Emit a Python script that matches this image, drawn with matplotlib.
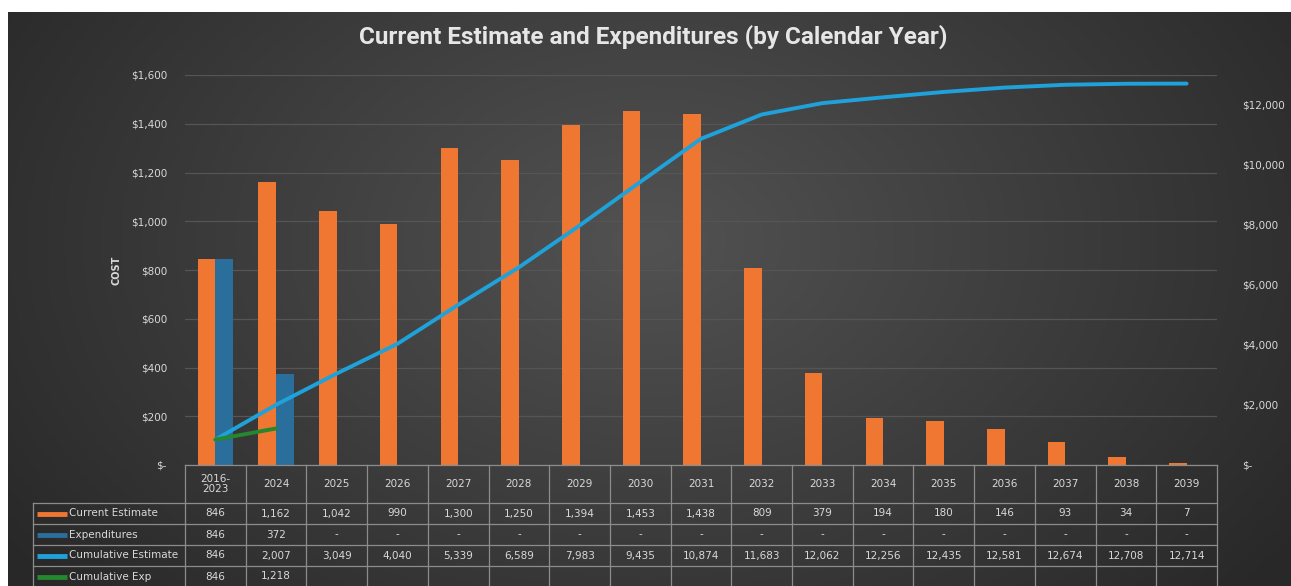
import matplotlib
matplotlib.use("Agg")
import matplotlib.pyplot as plt
import numpy as np
from matplotlib.colors import LinearSegmentedColormap

years = ["2016-\n2023", "2024", "2025", "2026", "2027", "2028", "2029", "2030", "2031",
         "2032", "2033", "2034", "2035", "2036", "2037", "2038", "2039"]
current_est = [846, 1162, 1042, 990, 1300, 1250, 1394, 1453, 1438, 809, 379, 194, 180, 146, 93, 34, 7]
expend = [846, 372] + [0] * 15
cum_est = [846, 2007, 3049, 4040, 5339, 6589, 7983, 9435, 10874, 11683, 12062, 12256, 12435,
           12581, 12674, 12708, 12714]
cum_exp = [846, 1218]
left_ticks = list(range(0, 1601, 200))
right_ticks = list(range(0, 12001, 2000))

C_ORANGE = "#EF7732"
C_BLUE = "#2A6E9C"
C_LINE = "#1FA2DA"
C_GREEN = "#25872E"
TXT = "#D9D9D9"
GRID = "#555555"
TBL = "#8C8C8C"

W, H = 1291, 586
fig = plt.figure(figsize=(W / 100, H / 100), dpi=100, facecolor="white")

def box(l, t, r, b):
    return [l / W, 1 - b / H, (r - l) / W, (b - t) / H]

# dark radial gradient background
bg = fig.add_axes(box(8, 12, W, H), zorder=-10)
gx, gy = np.meshgrid(np.linspace(0, 1, 400), np.linspace(0, 1, 200))
d = np.sqrt(((gx - 0.5) / 0.62) ** 2 + ((gy - 0.4) / 0.95) ** 2)
cmap = LinearSegmentedColormap.from_list("bg", ["#525252", "#3d3d3d", "#282828"])
bg.imshow(np.clip(d, 0, 1), cmap=cmap, vmin=0, vmax=1, aspect="auto", extent=[0, 1, 1, 0])
bg.set_axis_off()

L, R, T, B = 185, 1217, 75, 465
ax = fig.add_axes(box(L, T, R, B))
ax.set_facecolor("none")
x = np.arange(len(years))
bw = 0.29
ax.bar(x - 0.145, current_est, bw, color=C_ORANGE, zorder=3)
ax.bar(x + 0.145, expend, bw, color=C_BLUE, zorder=3)
ax.set_xlim(-0.5, len(years) - 0.5)
ax.set_ylim(0, 1600)
ax.set_yticks(left_ticks)
ax.set_yticklabels(["$-"] + [f"${v:,}" for v in left_ticks[1:]])
ax.yaxis.grid(True, color=GRID, lw=0.9)
ax.set_axisbelow(True)
ax.set_xticks([])
ax.tick_params(axis="y", length=0, pad=13, labelsize=7.5, labelcolor=TXT)
for s in ax.spines.values():
    s.set_visible(False)

ax2 = ax.twinx()
ax2.plot(x, cum_est, color=C_LINE, lw=2.8, solid_capstyle="round", zorder=5)
ax2.plot(x[:len(cum_exp)], cum_exp, color=C_GREEN, lw=2.8, solid_capstyle="round", zorder=6)
ax2.set_ylim(0, 13000)
ax2.set_yticks(right_ticks)
ax2.set_yticklabels(["$-"] + [f"${v:,}" for v in right_ticks[1:]])
ax2.tick_params(axis="y", length=0, pad=18, labelsize=7.5, labelcolor=TXT)
for s in ax2.spines.values():
    s.set_visible(False)

fig.text(117 / W, 1 - 270 / H, "COST", rotation=90, ha="center", va="center",
         fontsize=7, fontweight="bold", color=TXT)
fig.text(653 / W, 1 - 37 / H, "Current Estimate and Expenditures (by Calendar Year)",
         ha="center", va="center", fontsize=17.5, fontweight="bold", color="#E6E6E6",
         family="Roboto")

# data table below the plot
ov = fig.add_axes([0, 0, 1, 1], zorder=5)
ov.set_xlim(0, W)
ov.set_ylim(H, 0)
ov.set_axis_off()
ov.patch.set_visible(False)
colw = (R - L) / len(years)
rows_y = [503, 524, 545, 566, 587]
ov.plot([L, R], [B, B], color=TBL, lw=0.9)
for i in range(len(years) + 1):
    xx = L + i * colw
    ov.plot([xx, xx], [B, H], color=TBL, lw=0.9)
for yy in rows_y[:-1]:
    ov.plot([33, R], [yy, yy], color=TBL, lw=0.9)
ov.plot([33, 33], [rows_y[0], H], color=TBL, lw=0.9)

for i, yl in enumerate(years):
    ov.text(L + (i + 0.5) * colw, (B + rows_y[0]) / 2, yl, ha="center", va="center",
            fontsize=7.5, color=TXT, linespacing=1.1)

def fmt(v):
    return "-" if v == 0 else f"{v:,}"

series = [("Current Estimate", C_ORANGE, current_est),
          ("Expenditures", C_BLUE, expend),
          ("Cumulative Estimate", C_LINE, cum_est),
          ("Cumulative Exp", C_GREEN, cum_exp)]
for r, (name, col, vals) in enumerate(series):
    yc = (rows_y[r] + rows_y[r + 1]) / 2
    ov.plot([37, 67], [yc, yc], color=col, lw=3.5, solid_capstyle="butt")
    ov.text(69, yc, name, ha="left", va="center", fontsize=7.5, color=TXT)
    for i, v in enumerate(vals):
        ov.text(L + (i + 0.5) * colw, yc, fmt(v), ha="center", va="center",
                fontsize=7.5, color=TXT)

fig.savefig("out.png", dpi=100, facecolor=fig.get_facecolor())
